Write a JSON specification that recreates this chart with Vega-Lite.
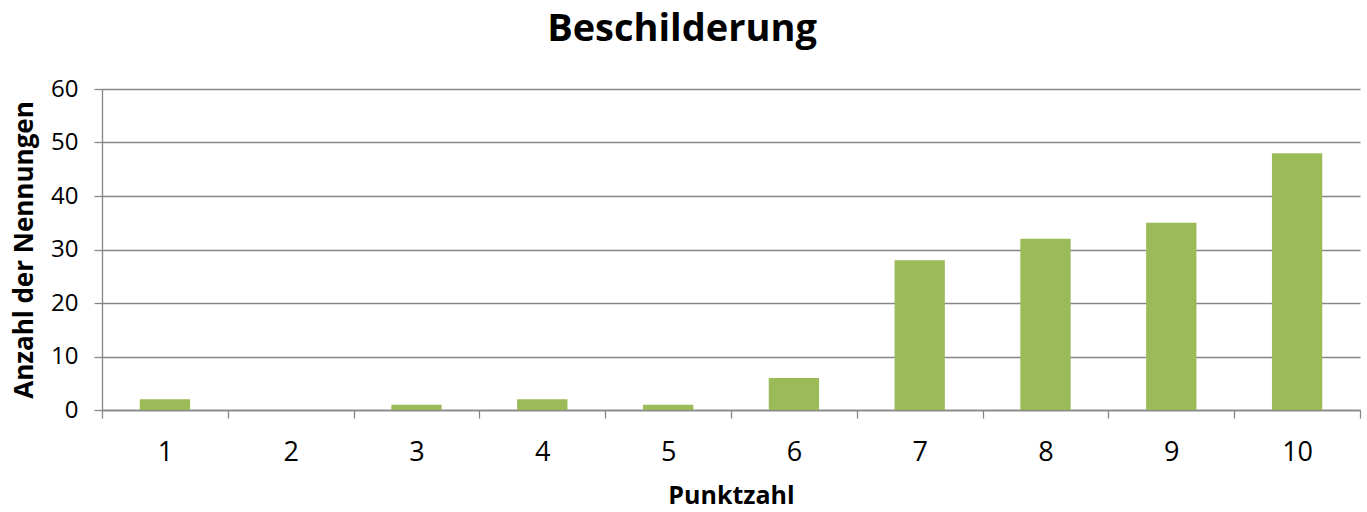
{
  "$schema": "https://vega.github.io/schema/vega-lite/v6.json",
  "autosize": "none",
  "width": 1258,
  "height": 321,
  "padding": {"left": 102, "top": 89, "right": 7, "bottom": 102},
  "background": "white",
  "title": {
    "text": "Beschilderung",
    "font": "Open Sans",
    "fontSize": 38,
    "fontWeight": "bold",
    "color": "#000000",
    "anchor": "middle",
    "dx": -49,
    "offset": 28
  },
  "data": {
    "values": [
      {"Punktzahl": "1", "Anzahl": 2},
      {"Punktzahl": "2", "Anzahl": 0},
      {"Punktzahl": "3", "Anzahl": 1},
      {"Punktzahl": "4", "Anzahl": 2},
      {"Punktzahl": "5", "Anzahl": 1},
      {"Punktzahl": "6", "Anzahl": 6},
      {"Punktzahl": "7", "Anzahl": 28},
      {"Punktzahl": "8", "Anzahl": 32},
      {"Punktzahl": "9", "Anzahl": 35},
      {"Punktzahl": "10", "Anzahl": 48}
    ]
  },
  "mark": {"type": "bar", "color": "#9BBB59", "width": {"band": 0.4}},
  "encoding": {
    "x": {
      "field": "Punktzahl",
      "type": "ordinal",
      "sort": null,
      "scale": {"paddingInner": 0, "paddingOuter": 0},
      "axis": {
        "title": "Punktzahl",
        "titleFont": "Open Sans",
        "titleFontSize": 25,
        "titleFontWeight": "bold",
        "titleColor": "#000000",
        "titlePadding": 18,
        "labelFont": "Open Sans",
        "labelFontSize": 27,
        "labelColor": "#000000",
        "labelAngle": 0,
        "labelPadding": 21,
        "tickBand": "extent",
        "tickSize": 8,
        "tickColor": "#868686",
        "tickWidth": 1.3,
        "domainColor": "#868686",
        "domainWidth": 1.3,
        "grid": false
      }
    },
    "y": {
      "field": "Anzahl",
      "type": "quantitative",
      "scale": {"domain": [0, 60], "nice": false},
      "axis": {
        "title": "Anzahl der Nennungen",
        "titleFont": "Open Sans",
        "titleFontSize": 26,
        "titleFontWeight": "bold",
        "titleColor": "#000000",
        "titlePadding": 13,
        "values": [0, 10, 20, 30, 40, 50, 60],
        "labelFont": "Open Sans",
        "labelFontSize": 24,
        "labelColor": "#000000",
        "labelPadding": 16,
        "tickSize": 8,
        "tickColor": "#868686",
        "tickWidth": 1.3,
        "domainColor": "#868686",
        "domainWidth": 1.3,
        "grid": true,
        "gridColor": "#868686",
        "gridWidth": 1.3
      }
    }
  },
  "config": {"view": {"stroke": null}}
}
